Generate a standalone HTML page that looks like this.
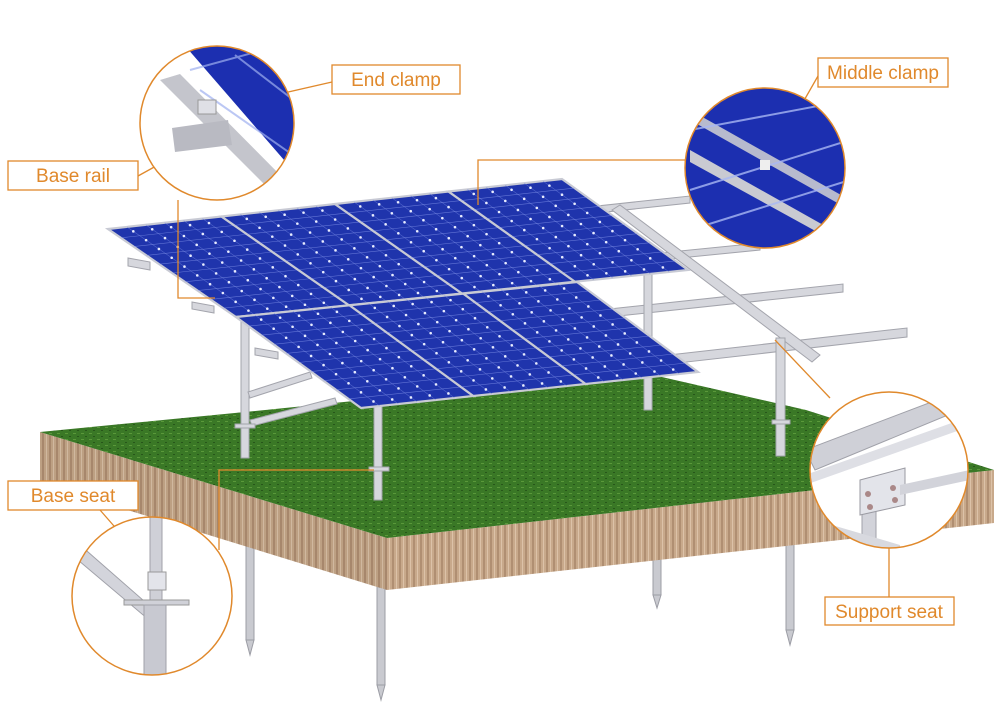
<!DOCTYPE html>
<html><head><meta charset="utf-8"><style>
html,body{margin:0;padding:0;background:#fff;}
svg{display:block}
.lbl{font-family:"Liberation Sans",sans-serif;font-size:19px;fill:#e0892c;}
</style></head><body>
<svg id="s" width="1000" height="707" viewBox="0 0 1000 707" xmlns="http://www.w3.org/2000/svg">
<defs>
<pattern id="soil" width="7" height="10" patternUnits="userSpaceOnUse">
<rect width="7" height="10" fill="#c8a98b"/><rect x="0" width="2" height="10" fill="#b08f72"/><rect x="4" width="1" height="10" fill="#dcc2a8"/>
</pattern>
<pattern id="grass" width="8" height="6" patternUnits="userSpaceOnUse">
<rect width="8" height="6" fill="#3a7826"/><rect x="1" y="1" width="3" height="1" fill="#5a983a"/><rect x="5" y="4" width="2" height="1" fill="#27561a"/>
</pattern>
<clipPath id="c1"><circle cx="217" cy="123" r="77"/></clipPath>
<clipPath id="c2"><circle cx="765" cy="168" r="80"/></clipPath>
<clipPath id="c3"><ellipse cx="889" cy="470" rx="79" ry="78"/></clipPath>
<clipPath id="c4"><ellipse cx="152" cy="596" rx="80" ry="79"/></clipPath>
</defs>

<g fill="#c9cad0" stroke="#9c9da5" stroke-width="1">
<rect x="246" y="540" width="8" height="100"/><polygon points="246,640 254,640 250,655"/>
<rect x="377" y="580" width="8" height="105"/><polygon points="377,685 385,685 381,700"/>
<rect x="653" y="540" width="8" height="55"/><polygon points="653,595 661,595 657,608"/>
<rect x="786" y="520" width="8" height="110"/><polygon points="786,630 794,630 790,645"/>
</g>

<polygon points="40,432 387,538 387,590 40,483" fill="url(#soil)"/>
<polygon points="387,538 994,470 994,523 387,590" fill="url(#soil)"/>
<polygon points="40,432 387,538 387,590 40,483" fill="#000" opacity="0.05"/>
<polygon points="40,432 245,412 640,372 806,410 994,470 387,538" fill="url(#grass)"/>

<g fill="#d6d7dd" stroke="#a3a4ac" stroke-width="1">
<polygon points="560,210 690,196 690,203 560,217"/>
<polygon points="640,255 760,243 760,250 640,262"/>
<polygon points="600,310 843,284 843,292 600,318"/>
<polygon points="660,356 907,328 907,337 660,365"/>
<polygon points="612,210 620,205 820,355 812,362"/>
<rect x="644" y="270" width="8" height="140"/>
<rect x="776" y="338" width="9" height="118"/>
<rect x="241" y="300" width="8" height="158"/>
<rect x="374" y="405" width="8" height="95"/>
<polygon points="248,392 310,372 312,378 250,398"/>
<polygon points="250,420 335,398 337,404 252,426"/>
<polygon points="128,258 150,262 150,270 128,266"/>
<polygon points="192,302 214,306 214,313 192,309"/>
<polygon points="255,348 278,352 278,359 255,355"/>
<rect x="235" y="424" width="20" height="4"/>
<rect x="369" y="467" width="20" height="4"/>
<rect x="772" y="420" width="18" height="4"/>
</g>

<g id="panels"></g>

<g stroke="#e0892c" stroke-width="1.3" fill="none">
<polyline points="332,82 218,108"/>
<polyline points="138,176 185,150"/>
<polyline points="178,200 178,298 215,298"/>
<polyline points="818,76 770,160"/>
<polyline points="685,160 478,160 478,205"/>
<polyline points="830,398 775,340"/>
<polyline points="889,548 889,597"/>
<polyline points="219,550 219,470 374,470"/>
<polyline points="100,510 155,573"/>
</g>

<g clip-path="url(#c1)">
<rect x="130" y="40" width="180" height="170" fill="#fff"/>
<polygon points="180,40 310,40 310,190" fill="#1c2fb0"/>
<g stroke="#9fb0f0" stroke-width="2" opacity="0.7"><line x1="190" y1="70" x2="300" y2="40"/><line x1="200" y1="90" x2="300" y2="160"/><line x1="235" y1="55" x2="300" y2="105"/></g>
<polygon points="160,80 180,74 300,195 280,200" fill="#c4c5cc"/>
<rect x="198" y="100" width="18" height="14" fill="#dfe0e6" stroke="#999"/>
<polygon points="172,128 228,120 232,145 175,152" fill="#b9bac2"/>
</g>
<circle cx="217" cy="123" r="77" fill="none" stroke="#e0892c" stroke-width="1.5"/>

<g clip-path="url(#c2)">
<rect x="680" y="85" width="170" height="170" fill="#1c2fb0"/>
<polygon points="690,150 850,240 850,250 690,162" fill="#c9cad2"/>
<polygon points="690,110 850,200 850,210 690,120" fill="#c9cad2" opacity="0.9"/>
<g stroke="#a9b8f4" stroke-width="2" opacity="0.8"><line x1="690" y1="190" x2="850" y2="140"/><line x1="690" y1="230" x2="850" y2="180"/><line x1="690" y1="130" x2="850" y2="100"/></g>
<rect x="760" y="160" width="10" height="10" fill="#eee"/>
</g>
<circle cx="765" cy="168" r="80" fill="none" stroke="#e0892c" stroke-width="1.5"/>

<g clip-path="url(#c3)">
<rect x="805" y="390" width="170" height="165" fill="#fff"/>
<polygon points="805,450 950,395 960,410 815,470" fill="#cfd0d7" stroke="#a0a1a9"/>
<polygon points="805,475 960,420 960,430 805,485" fill="#dedfe5"/>
<rect x="862" y="488" width="14" height="70" fill="#d2d3da" stroke="#a0a1a9"/>
<polygon points="860,480 905,468 905,505 860,515" fill="#e3e4ea" stroke="#9a9aa2"/>
<polygon points="900,485 970,470 970,480 900,495" fill="#d2d3da"/>
<polygon points="815,520 900,545 900,555 815,530" fill="#d8d9df"/>
<circle cx="868" cy="494" r="3" fill="#a88"/><circle cx="893" cy="488" r="3" fill="#a88"/><circle cx="870" cy="507" r="3" fill="#a88"/><circle cx="895" cy="500" r="3" fill="#a88"/>
</g>
<ellipse cx="889" cy="470" rx="79" ry="78" fill="none" stroke="#e0892c" stroke-width="1.5"/>

<g clip-path="url(#c4)">
<rect x="70" y="515" width="165" height="165" fill="#fff"/>
<rect x="150" y="517" width="12" height="100" fill="#cfd0d7" stroke="#a0a1a9"/>
<polygon points="72,555 80,545 160,615 155,625" fill="#d3d4db" stroke="#a0a1a9"/>
<rect x="148" y="572" width="18" height="18" fill="#e3e4ea" stroke="#999"/>
<rect x="124" y="600" width="65" height="5" fill="#d0d1d8" stroke="#999"/>
<rect x="144" y="605" width="22" height="80" fill="#c8c9d1" stroke="#a0a1a9"/>
</g>
<ellipse cx="152" cy="596" rx="80" ry="79" fill="none" stroke="#e0892c" stroke-width="1.5"/>

<g fill="#fff" stroke="#e0892c" stroke-width="1.3">
<rect x="332" y="65" width="128" height="29"/>
<rect x="8" y="161" width="130" height="29"/>
<rect x="818" y="58" width="130" height="29"/>
<rect x="8" y="481" width="130" height="29"/>
<rect x="825" y="597" width="129" height="28"/>
</g>
<text class="lbl" x="396" y="86" text-anchor="middle">End clamp</text>
<text class="lbl" x="73" y="182" text-anchor="middle">Base rail</text>
<text class="lbl" x="883" y="79" text-anchor="middle">Middle clamp</text>
<text class="lbl" x="73" y="502" text-anchor="middle">Base seat</text>
<text class="lbl" x="889" y="618" text-anchor="middle">Support seat</text>
</svg>
<script>
(function(){
var NS="http://www.w3.org/2000/svg",g=document.getElementById("panels");
function bl(q,u,v){var a=[q[0][0]+(q[1][0]-q[0][0])*u,q[0][1]+(q[1][1]-q[0][1])*u],b=[q[3][0]+(q[2][0]-q[3][0])*u,q[3][1]+(q[2][1]-q[3][1])*u];return[a[0]+(b[0]-a[0])*v,a[1]+(b[1]-a[1])*v];}
function el(t,a){var e=document.createElementNS(NS,t);for(var k in a)e.setAttribute(k,a[k]);g.appendChild(e);return e;}
function row(q,n){
 for(var i=0;i<n;i++){
  var u0=i/n,u1=(i+1)/n;
  var p=[bl(q,u0,0),bl(q,u1,0),bl(q,u1,1),bl(q,u0,1)];
  el("polygon",{points:p.map(function(z){return z.join(",")}).join(" "),fill:"#1f34ac",stroke:"#c8cad4","stroke-width":"2.2"});
  for(var k=1;k<6;k++){var a=bl(p,k/6,0),b=bl(p,k/6,1);el("line",{x1:a[0],y1:a[1],x2:b[0],y2:b[1],stroke:"#6f82e0","stroke-width":"0.6",opacity:"0.6"});}
  for(var k=1;k<10;k++){var a=bl(p,0,k/10),b=bl(p,1,k/10);el("line",{x1:a[0],y1:a[1],x2:b[0],y2:b[1],stroke:"#8e9ef0","stroke-width":"0.6",opacity:"0.6"});}
  for(var x=1;x<6;x++)for(var y=0;y<10;y++){var c=bl(p,x/6,(y+0.5)/10);el("circle",{cx:c[0],cy:c[1],r:"1.3",fill:"#e8ecff"});}
 }
}
row([[108,229],[562,179],[688,270],[236,317]],4);
row([[236,317],[577,282],[698,372],[361,408]],3);
})();
</script>
</body></html>
